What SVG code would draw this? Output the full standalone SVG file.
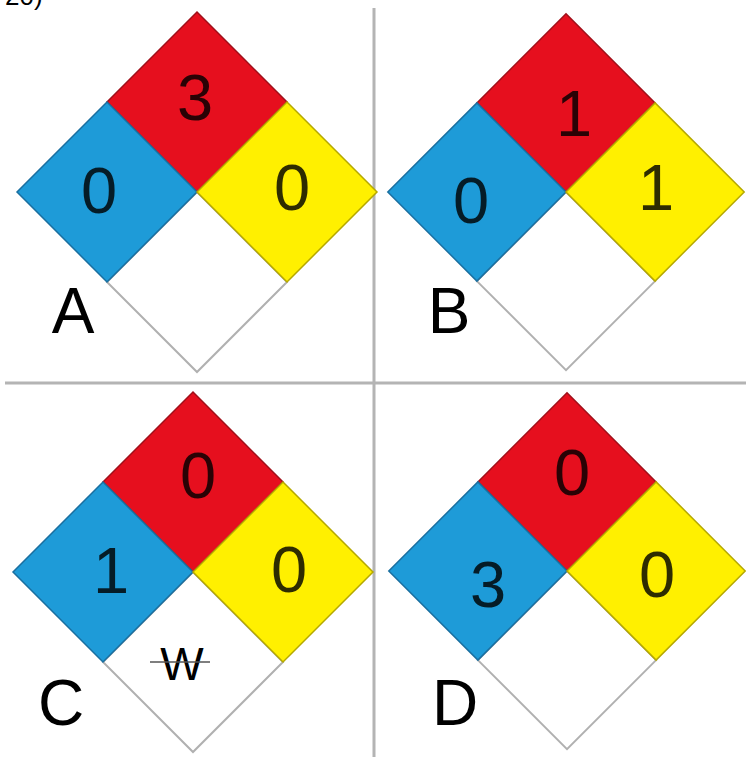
<svg xmlns="http://www.w3.org/2000/svg" width="746" height="763" viewBox="0 0 746 763">
<style>
.red{fill:#e60f1e;stroke:#a0101a;stroke-width:1.5;stroke-linejoin:miter}
.blue{fill:#1e9bd8;stroke:#1a6fa0;stroke-width:1.5}
.yel{fill:#fff000;stroke:#b5a800;stroke-width:1.5}
.wht{fill:#ffffff;stroke:#b0b0b0;stroke-width:2}
.dig{font-family:"Liberation Sans",Arial,sans-serif;font-size:65px;text-anchor:middle;fill:#000;fill-opacity:0.82}
.lab{font-family:"Liberation Sans",Arial,sans-serif;font-size:64px;text-anchor:middle;fill:#000}
.sep{stroke:#b4b4b4;stroke-width:3;fill:none}
</style>
<defs>
<g id="dia">
<polygon class="wht" points="0,0 90,90 0,180 -90,90"/>
<polygon class="red" points="0,-180 90,-90 0,0 -90,-90"/>
<polygon class="blue" points="-90,-90 0,0 -90,90 -180,0"/>
<polygon class="yel" points="90,-90 180,0 90,90 0,0"/>
</g>
</defs>
<rect width="746" height="763" fill="#ffffff"/>
<text x="5" y="5" style="font-family:'Liberation Sans',Arial,sans-serif;font-size:26px;fill:#000">20)</text>
<g id="separators">
<line class="sep" x1="5" y1="383" x2="746" y2="383"/>
<line class="sep" x1="374" y1="8" x2="374" y2="757"/>
</g>
<g id="diamondA">
<use href="#dia" transform="translate(197,192)"/>
<text class="dig" x="195" y="120">3</text>
<text class="dig" x="99" y="213">0</text>
<text class="dig" x="292" y="210">0</text>
<text class="lab" x="73" y="333">A</text>
</g>
<g id="diamondB">
<use href="#dia" transform="translate(566,192) scale(0.99)"/>
<text class="dig" x="574" y="136">1</text>
<text class="dig" x="471" y="223">0</text>
<text class="dig" x="656" y="210">1</text>
<text class="lab" x="449" y="333">B</text>
</g>
<g id="diamondC">
<use href="#dia" transform="translate(193,572)"/>
<text class="dig" x="198" y="498">0</text>
<text class="dig" x="111" y="593">1</text>
<text class="dig" x="289" y="592">0</text>
<text style="font-family:'Liberation Sans',Arial,sans-serif;font-size:46px;text-anchor:middle;fill:#000" x="182" y="680">W</text>
<line x1="150" y1="662" x2="210" y2="662" stroke="#555" stroke-width="1.5"/>
<text class="lab" x="61" y="725">C</text>
</g>
<g id="diamondD">
<use href="#dia" transform="translate(567,571) scale(0.99)"/>
<text class="dig" x="572" y="495">0</text>
<text class="dig" x="488" y="607">3</text>
<text class="dig" x="657" y="597">0</text>
<text class="lab" x="455" y="725">D</text>
</g>
</svg>
